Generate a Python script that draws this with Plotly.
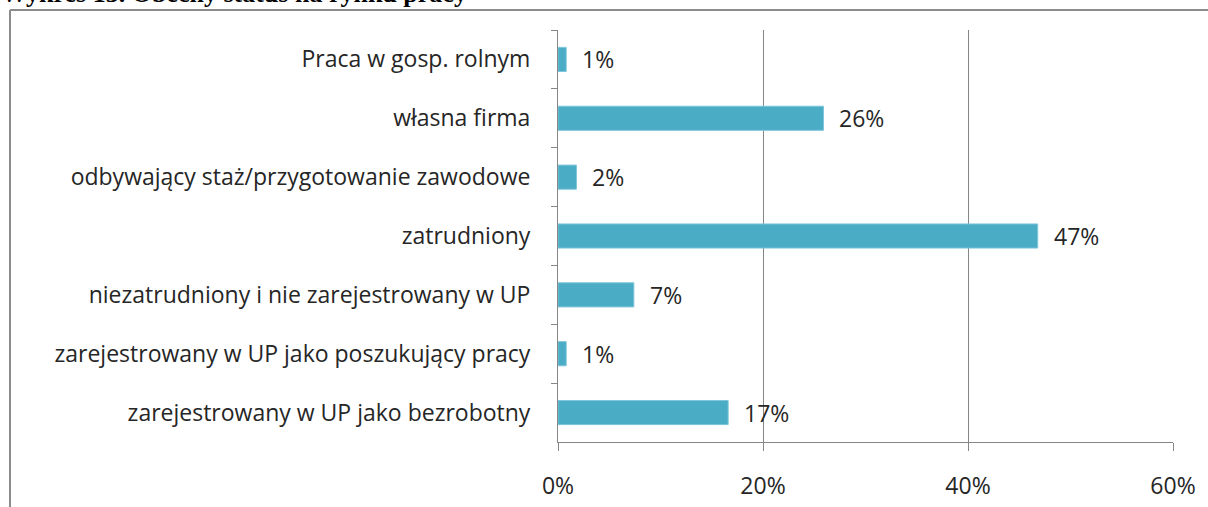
import plotly.graph_objects as go

categories = [
    "Praca w gosp. rolnym",
    "własna firma",
    "odbywający staż/przygotowanie zawodowe",
    "zatrudniony",
    "niezatrudniony i nie zarejestrowany w UP",
    "zarejestrowany w UP jako poszukujący pracy",
    "zarejestrowany w UP jako bezrobotny",
]
values = [0.8, 25.9, 1.8, 46.8, 7.4, 0.8, 16.6]
labels = [f"{round(v)}%" for v in values]
x_ticks = [0, 20, 40, 60]
x_tick_labels = ["0%", "20%", "40%", "60%"]
title_text = "Wykres 13. Obecny status na rynku pracy"

FONT = "Open Sans"
FS = 23
TXT = "#262626"
BAR = "#4BACC6"
GRID = "#868686"

W, H = 1208, 507
L, R, T, B = 558, 35, 30, 65

fig = go.Figure()
fig.add_trace(go.Bar(
    y=categories, x=values, orientation="h",
    marker=dict(color=BAR, line=dict(color="#7FC6DA", width=1)),
    width=0.41,
    hoverinfo="skip",
))

for c, v, t in zip(categories, values, labels):
    fig.add_annotation(x=v, y=c, xref="x", yref="y", text=t, showarrow=False,
                       xanchor="left", yanchor="middle", xshift=14,
                       font=dict(family=FONT, size=FS, color=TXT))

pw = W - L - R
ph = H - T - B


def px_x(p):
    return (p - L) / pw


def px_y(p):
    return (H - B - p) / ph


# outer chart frame (gray border, right side beyond view)
fig.add_shape(type="line", xref="paper", yref="paper",
              x0=px_x(10), x1=px_x(W + 5), y0=px_y(10), y1=px_y(10),
              line=dict(color="#8C8C8C", width=2))
fig.add_shape(type="line", xref="paper", yref="paper",
              x0=px_x(10), x1=px_x(10), y0=px_y(10), y1=px_y(H + 5),
              line=dict(color="#8C8C8C", width=2))

fig.add_annotation(xref="paper", yref="paper", x=px_x(0), y=px_y(9),
                   xanchor="left", yanchor="bottom", text="<b>" + title_text + "</b>",
                   showarrow=False, borderpad=0,
                   font=dict(family="Liberation Serif", size=26, color="#000000"))

fig.update_layout(
    width=W, height=H,
    margin=dict(l=L, r=R, t=T, b=B, pad=0, autoexpand=False),
    paper_bgcolor="white", plot_bgcolor="white",
    showlegend=False,
    font=dict(family=FONT, size=FS, color=TXT),
    xaxis=dict(range=[0, 60], tickvals=x_ticks, ticktext=x_tick_labels,
               showgrid=True, gridcolor=GRID, gridwidth=1,
               showline=True, linecolor=GRID, linewidth=1,
               ticks="outside", ticklen=8, tickcolor=GRID,
               ticklabelstandoff=15, zeroline=False, automargin=False,
               tickfont=dict(family=FONT, size=FS, color=TXT)),
    yaxis=dict(categoryorder="array", categoryarray=categories, autorange="reversed",
               showline=True, linecolor=GRID, linewidth=1,
               ticks="outside", ticklen=6, tickcolor=GRID, tickson="boundaries",
               ticklabelstandoff=22, showgrid=False, automargin=False,
               tickfont=dict(family=FONT, size=FS, color=TXT)),
)

fig.write_html("out.html", config={"displayModeBar": False},
               post_script="document.body.style.margin='0';")
